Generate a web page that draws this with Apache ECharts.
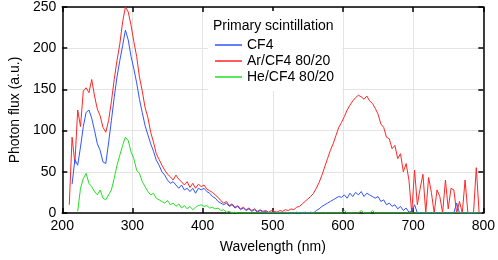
<!DOCTYPE html>
<html>
<head>
<meta charset="utf-8">
<script src="https://cdn.jsdelivr.net/npm/echarts@6/dist/echarts.min.js"></script>
<style>
html,body{margin:0;padding:0;background:#fff;}
#chart{width:498px;height:260px;}
</style>
</head>
<body>
<div id="chart"></div>
<script>
const wavelength = [
  210,214,218,222,226,230,234,238,242,246,
  250,254,258,262,266,270,274,278,282,286,
  290,294,298,302,306,310,314,318,322,326,
  330,334,338,342,346,350,354,358,362,366,
  370,374,378,382,386,390,394,398,402,406,
  410,414,418,422,426,430,434,438,442,446,
  450,454,458,462,466,470,474,478,482,486,
  490,494,498,502,506,510,514,518,522,526,
  530,534,538,542,546,550,554,558,562,566,
  570,574,578,582,586,590,594,598,602,606,
  610,614,618,622,626,630,634,638,642,646,
  650,654,658,662,666,670,674,678,682,686,
  690,694,698,702,706,710,714,718,722,726,
  730,734,738,742,746,750,754,758,762,766,
  770,774,778,782,786,790,794,798
];
const cf4 = [
  null,35,65,58,80,105,122,125,115,100,
  84,76,62,60,85,112,140,165,185,203,
  222,210,190,175,158,138,122,106,95,84,
  75,64,58,50,46,40,36,38,34,30,
  34,28,30,26,30,24,30,28,30,26,
  24,20,18,14,12,10,12,8,10,6,
  8,4,6,3,5,2,4,1,3,1,
  2,0,1,0,1,0,0,1,0,0,
  0,1,0,0,1,0,1,0,3,5,
  8,10,12,14,16,18,20,19,22,18,
  24,20,25,22,26,20,24,22,20,18,
  20,14,16,10,12,8,10,5,8,3,
  6,1,2,10,0,0,0,0,0,0,
  0,0,0,0,0,0,0,0,12,0,
  0,0,0,0,0,0,0,0
];
const arCf4 = [
  10,92,60,125,105,148,152,146,162,142,
  126,118,104,98,112,135,162,185,205,232,
  250,244,228,208,190,165,148,128,116,98,
  86,72,65,58,52,47,44,40,46,41,
  38,34,38,31,36,30,35,32,34,29,
  27,25,22,19,15,12,14,9,11,7,
  9,5,7,4,6,3,5,2,4,2,
  3,1,3,2,1,3,2,4,3,5,
  4,7,8,11,14,17,20,24,30,37,
  46,56,66,76,84,94,104,110,117,125,
  131,136,140,143,141,138,142,136,133,127,
  120,108,104,92,90,78,82,66,72,50,
  60,40,0,52,10,30,47,0,43,25,
  0,28,20,0,40,5,30,28,0,14,
  0,40,0,0,0,55,0,0
];
const heCf4 = [
  null,null,null,2,30,42,48,36,32,26,
  22,28,18,16,22,28,42,58,70,82,
  92,88,74,66,52,48,38,32,26,22,
  24,18,16,14,12,15,10,12,8,11,
  6,9,5,8,4,7,9,10,8,9,
  6,7,5,6,3,4,1,2,0,1,
  0,0,0,0,0,0,0,0,0,0,
  0,0,0,0,0,0,0,0,0,0,
  0,0,0,0,0,0,0,0,0,0,
  0,0,0,0,0,0,0,0,3,0,
  0,0,0,0,3,0,0,0,3,0,
  0,0,0,0,0,0,0,0,0,0,
  0,0,0,0,0,0,0,0,0,0,
  0,0,0,0,0,0,0,0,0,0,
  0,0,0,0,0,0,0,0
];
const seriesNames = ['CF4', 'Ar/CF4 80/20', 'He/CF4 80/20'];
const xTicks = {min: 200, max: 800, interval: 100};
const yTicks = {min: 0, max: 250, interval: 50};

function pairs(vals) {
  return wavelength.map((w, i) => [w, vals[i]]).filter(p => p[1] !== null);
}

const FONT = 'Liberation Sans, Arial, Helvetica, sans-serif';
const chart = echarts.init(document.getElementById('chart'), null, {renderer: 'canvas'});

const axisLine = {show: true, onZero: false, lineStyle: {color: '#000', width: 1.5}};
const axisTick = {show: true, inside: true, length: 5, lineStyle: {color: '#000', width: 1.5}};
const split = {show: true, lineStyle: {color: '#e4e4e4', width: 1}};

chart.setOption({
  animation: false,
  backgroundColor: '#fff',
  textStyle: {fontFamily: FONT},
  grid: {left: 56, right: 13, top: 6, bottom: 47, containLabel: false},
  xAxis: [
    {type: 'value', position: 'bottom', min: xTicks.min, max: xTicks.max, interval: xTicks.interval,
     name: 'Wavelength (nm)', nameLocation: 'middle', nameGap: 27,
     nameTextStyle: {color: '#000', fontSize: 14, fontFamily: FONT},
     axisLine: axisLine, axisTick: axisTick, splitLine: split,
     axisLabel: {color: '#000', fontSize: 14, margin: 6, fontFamily: FONT}},
    {type: 'value', position: 'top', min: xTicks.min, max: xTicks.max, interval: xTicks.interval,
     axisLine: axisLine, axisTick: axisTick, splitLine: {show: false}, axisLabel: {show: false}}
  ],
  yAxis: [
    {type: 'value', position: 'left', min: yTicks.min, max: yTicks.max, interval: yTicks.interval,
     name: 'Photon flux (a.u.)', nameLocation: 'middle', nameGap: 40,
     nameTextStyle: {color: '#000', fontSize: 14, fontFamily: FONT},
     axisLine: axisLine, axisTick: axisTick, splitLine: split,
     axisLabel: {color: '#000', fontSize: 14, margin: 6, fontFamily: FONT}},
    {type: 'value', position: 'right', min: yTicks.min, max: yTicks.max, interval: yTicks.interval,
     axisLine: axisLine, axisTick: axisTick, splitLine: {show: false}, axisLabel: {show: false}}
  ],
  legend: {
    orient: 'vertical', left: 208, top: 11,
    padding: [26, 8, 6, 7],
    backgroundColor: '#fff',
    icon: 'rect',
    itemWidth: 27, itemHeight: 1.5, itemGap: 0,
    data: seriesNames,
    textStyle: {color: '#000', fontSize: 14, fontFamily: FONT, lineHeight: 16}
  },
  graphic: [
    {type: 'text', left: 213, top: 19, z: 100,
     style: {text: 'Primary scintillation', fill: '#000', font: '14px ' + FONT}}
  ],
  series: [
    {name: seriesNames[0], type: 'line', data: pairs(cf4), symbol: 'none', z: 3,
     color: '#2f55ff', lineStyle: {color: '#2f55ff', width: 1}},
    {name: seriesNames[1], type: 'line', data: pairs(arCf4), symbol: 'none', z: 2,
     color: '#ff2626', lineStyle: {color: '#ff2626', width: 1}},
    {name: seriesNames[2], type: 'line', data: pairs(heCf4), symbol: 'none', z: 4,
     color: '#22e022', lineStyle: {color: '#22e022', width: 1}}
  ]
});
</script>
</body>
</html>
